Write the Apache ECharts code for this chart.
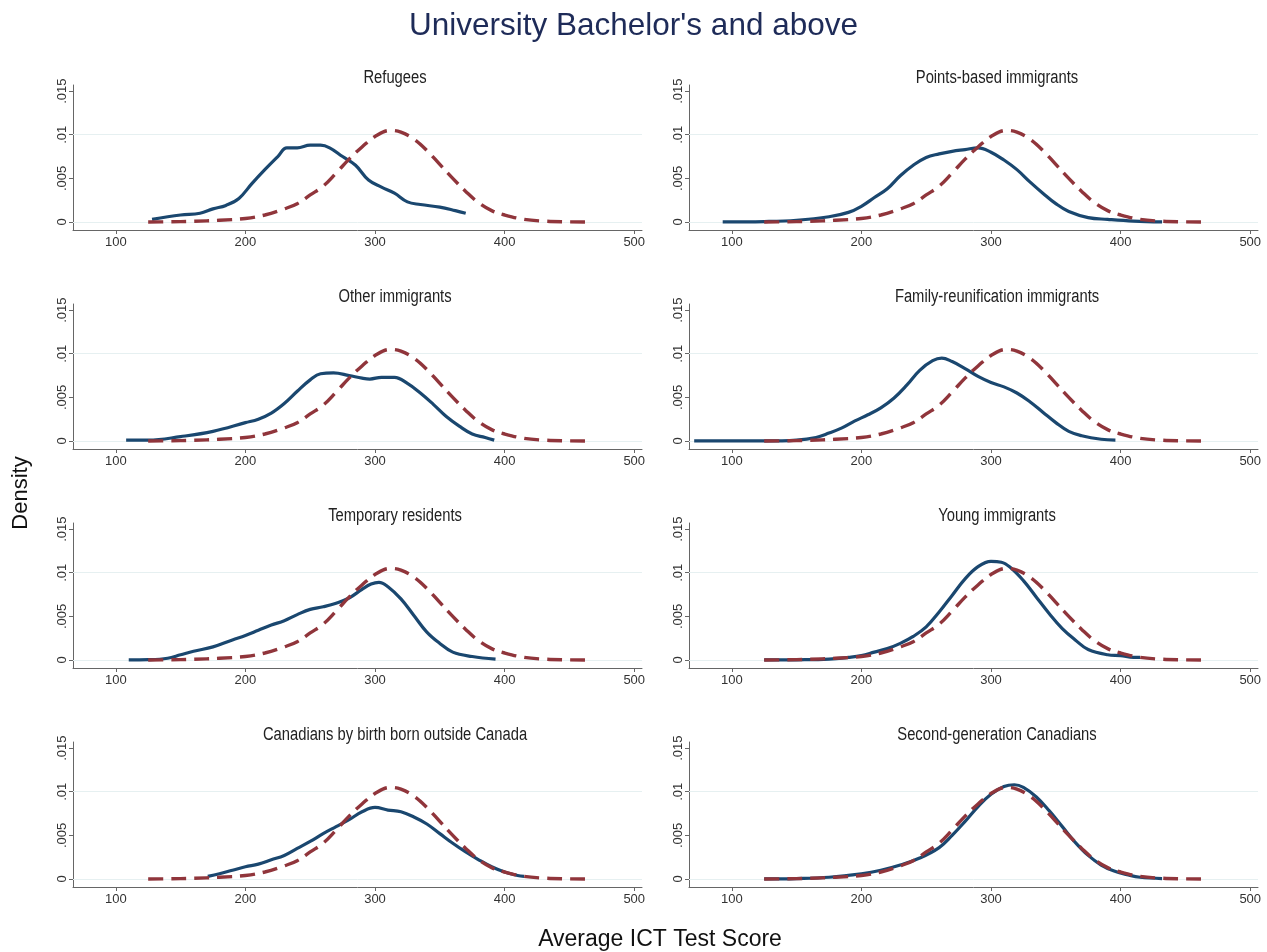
<!DOCTYPE html>
<html>
<head>
<meta charset="utf-8">
<title>University Bachelor's and above</title>
<script src="https://cdn.jsdelivr.net/npm/echarts@6/dist/echarts.min.js"></script>
<style>
  html, body { margin: 0; padding: 0; background: #fff; }
  #chart { width: 1267px; height: 952px; }
</style>
</head>
<body>
<div id="chart"></div>
<script>
// panel titles, left column then right column, row by row
const panelTitles = [
  "Refugees", "Points-based immigrants",
  "Other immigrants", "Family-reunification immigrants",
  "Temporary residents", "Young immigrants",
  "Canadians by birth born outside Canada", "Second-generation Canadians"
];

const xTicks = [100, 200, 300, 400, 500];
const yTicks = [0, 0.005, 0.01, 0.015];
const yTickLabels = ["0", ".005", ".01", ".015"];

// red dashed reference curve (same in every panel)
const reference = [
  [125, 0], [140, 0.00002], [160, 0.00008], [180, 0.0002], [200, 0.0004],
  [215, 0.0008], [230, 0.0015], [240, 0.0021], [250, 0.0031], [260, 0.0041],
  [270, 0.0056], [280, 0.0072], [290, 0.0086], [300, 0.0098], [312, 0.0105],
  [320, 0.0103], [330, 0.0095], [340, 0.0082], [350, 0.0066], [360, 0.005],
  [370, 0.0035], [380, 0.0022], [390, 0.0013], [400, 0.0008], [415, 0.0003],
  [430, 0.0001], [445, 0.00002], [462, 0]
];

const refugees = [
  [128, 0.0003], [150, 0.0008], [165, 0.001], [175, 0.0015], [185, 0.0019],
  [195, 0.0027], [205, 0.0044], [215, 0.006], [225, 0.0075], [232, 0.0085],
  [240, 0.0085], [250, 0.0088], [258, 0.0088], [265, 0.0085], [275, 0.0075],
  [285, 0.0065], [295, 0.0048], [305, 0.004], [315, 0.0033], [325, 0.0023],
  [335, 0.002], [350, 0.0017], [362, 0.0013], [370, 0.001]
];

const pointsBased = [
  [93, 0], [125, 0.00005], [150, 0.0002], [175, 0.0006], [190, 0.0011],
  [200, 0.0018], [210, 0.0028], [220, 0.0038], [230, 0.0053], [240, 0.0065],
  [250, 0.0074], [260, 0.0078], [270, 0.0081], [280, 0.0083], [290, 0.0085],
  [300, 0.008], [310, 0.0071], [320, 0.006], [330, 0.0046], [340, 0.0033],
  [350, 0.0021], [360, 0.0012], [375, 0.0005], [390, 0.0003], [410, 0.0001],
  [432, 0]
];

const otherImmigrants = [
  [108, 0.0001], [125, 0.0001], [150, 0.0005], [175, 0.0011], [200, 0.0021],
  [210, 0.0025], [220, 0.0032], [230, 0.0043], [240, 0.0057], [250, 0.007],
  [258, 0.0077], [268, 0.0078], [280, 0.0075], [290, 0.0072], [296, 0.0071],
  [305, 0.0073], [315, 0.0073], [325, 0.0066], [335, 0.0055], [345, 0.0042],
  [355, 0.0028], [365, 0.0017], [375, 0.0008], [385, 0.0004], [392, 0.0001]
];

const familyReunification = [
  [71, 0], [100, 0], [125, 0], [150, 0.0001], [165, 0.0004], [175, 0.0009],
  [185, 0.0015], [195, 0.0023], [205, 0.003], [215, 0.0038], [225, 0.0049],
  [235, 0.0064], [245, 0.0081], [255, 0.0092], [262, 0.0095], [270, 0.0091],
  [280, 0.0083], [290, 0.0074], [300, 0.0067], [310, 0.0062], [320, 0.0055],
  [330, 0.0045], [340, 0.0033], [350, 0.0021], [360, 0.0011], [370, 0.0006],
  [385, 0.0002], [396, 0.0001]
];

const temporaryResidents = [
  [110, 0], [125, 0.00003], [140, 0.0002], [150, 0.0006], [160, 0.001],
  [175, 0.0015], [190, 0.0023], [200, 0.0028], [210, 0.0034], [220, 0.004],
  [230, 0.0045], [240, 0.0052], [250, 0.0058], [260, 0.0061], [270, 0.0065],
  [280, 0.0071], [290, 0.0081], [297, 0.0087], [303, 0.0089], [310, 0.0084],
  [320, 0.007], [330, 0.0051], [340, 0.0032], [350, 0.0019], [360, 0.0009],
  [375, 0.0004], [393, 0.0001]
];

const youngImmigrants = [
  [125, 0], [150, 0.00002], [175, 0.0001], [190, 0.0003], [200, 0.0005],
  [210, 0.0009], [220, 0.0013], [230, 0.0019], [240, 0.0027], [250, 0.0038],
  [260, 0.0055], [270, 0.0074], [280, 0.0093], [290, 0.0107], [300, 0.0113],
  [308, 0.0112], [315, 0.0106], [325, 0.0091], [335, 0.0072], [345, 0.0053],
  [355, 0.0036], [365, 0.0023], [375, 0.0012], [390, 0.0006], [400, 0.0005],
  [410, 0.0003], [415, 0.0003]
];

const bornOutside = [
  [171, 0.0003], [180, 0.0006], [190, 0.001], [200, 0.0014], [210, 0.0017],
  [220, 0.0022], [230, 0.0027], [240, 0.0035], [250, 0.0043], [260, 0.0052],
  [270, 0.006], [280, 0.0068], [290, 0.0077], [300, 0.0082], [310, 0.0079],
  [320, 0.0077], [330, 0.0071], [340, 0.0063], [350, 0.0052], [360, 0.0041],
  [370, 0.0031], [380, 0.0022], [390, 0.0014], [400, 0.0008], [410, 0.0004],
  [415, 0.0003]
];

const secondGeneration = [
  [125, 0], [150, 0.00005], [175, 0.0002], [200, 0.0006], [215, 0.001],
  [230, 0.0016], [245, 0.0024], [260, 0.0036], [270, 0.005], [280, 0.0066],
  [290, 0.0083], [300, 0.0097], [310, 0.0106], [318, 0.0108], [325, 0.0105],
  [335, 0.0094], [345, 0.0078], [355, 0.006], [365, 0.0042], [375, 0.0027],
  [385, 0.0016], [395, 0.0009], [405, 0.0005], [415, 0.0002], [432, 0.00005]
];

const groups = [
  refugees, pointsBased,
  otherImmigrants, familyReunification,
  temporaryResidents, youngImmigrants,
  bornOutside, secondGeneration
];

const blue = "#1a476f";
const red = "#90353b";
const sans = "'Liberation Sans', Arial, sans-serif";

const colLeft = [73, 689];
const plotW = 569;
const rowTop = 85;
const rowStep = 219;
const plotH = 145;

const grids = [], xAxes = [], yAxes = [], series = [], graphics = [];

groups.forEach((blueData, i) => {
  const col = i % 2;
  const row = Math.floor(i / 2);
  const top = rowTop + row * rowStep;
  grids.push({ left: colLeft[col], top: top, width: plotW, height: plotH, containLabel: false });
  xAxes.push({
    type: "value", gridIndex: i, min: 67, max: 506,
    axisLine: { show: true, onZero: false, lineStyle: { color: "#666", width: 1 } },
    axisTick: { show: true, length: 4, customValues: xTicks, lineStyle: { color: "#666" } },
    axisLabel: { customValues: xTicks, fontSize: 13, color: "#333", fontFamily: sans, margin: 6 },
    splitLine: { show: false }
  });
  yAxes.push({
    type: "value", gridIndex: i, min: -0.00092, max: 0.0157,
    axisLine: { show: true, lineStyle: { color: "#666", width: 1 } },
    axisTick: { show: true, length: 4, customValues: yTicks, lineStyle: { color: "#666" } },
    axisLabel: {
      customValues: yTicks, rotate: 90, fontSize: 13, color: "#333", fontFamily: sans, margin: 4,
      formatter: v => yTickLabels[yTicks.findIndex(t => Math.abs(t - v) < 1e-9)] || ""
    },
    splitLine: { show: false }
  });
  series.push({
    type: "line", xAxisIndex: i, yAxisIndex: i, data: blueData,
    smooth: 0.4, showSymbol: false, silent: true, z: 2,
    lineStyle: { color: blue, width: 3.2 },
    markLine: {
      silent: true, symbol: "none", label: { show: false }, z: 1,
      lineStyle: { color: "#e6f0f1", width: 1, type: "solid" },
      data: yTicks.map(t => ({ yAxis: t }))
    }
  });
  series.push({
    type: "line", xAxisIndex: i, yAxisIndex: i, data: reference,
    smooth: 0.4, showSymbol: false, silent: true, z: 3,
    lineStyle: { color: red, width: 3.4, type: [15, 8] }
  });
  // Stata uses a condensed face here; squeeze the regular one horizontally
  graphics.push({
    type: "text",
    x: col === 0 ? 395 : 997,
    y: 78 + row * rowStep,
    scaleX: 0.82,
    style: {
      text: panelTitles[i], fill: "#222", font: "18px " + sans,
      textAlign: "center", textVerticalAlign: "middle"
    }
  });
});

graphics.push({
  type: "text", x: 21, y: 493, rotation: Math.PI / 2,
  style: { text: "Density", fill: "#111", font: "22px " + sans,
    textAlign: "center", textVerticalAlign: "middle" }
});
graphics.push({
  type: "text", x: 660, y: 940,
  style: { text: "Average ICT Test Score", fill: "#111", font: "23px " + sans,
    textAlign: "center", textVerticalAlign: "middle" }
});

const chart = echarts.init(document.getElementById("chart"), null, { renderer: "canvas" });
chart.setOption({
  animation: false,
  backgroundColor: "#fff",
  title: {
    text: "University Bachelor's and above",
    left: "center", top: 5,
    textStyle: { fontSize: 31.5, fontWeight: "normal", color: "#1e2b58", fontFamily: sans }
  },
  grid: grids,
  xAxis: xAxes,
  yAxis: yAxes,
  series: series,
  graphic: graphics
});
</script>
</body>
</html>
